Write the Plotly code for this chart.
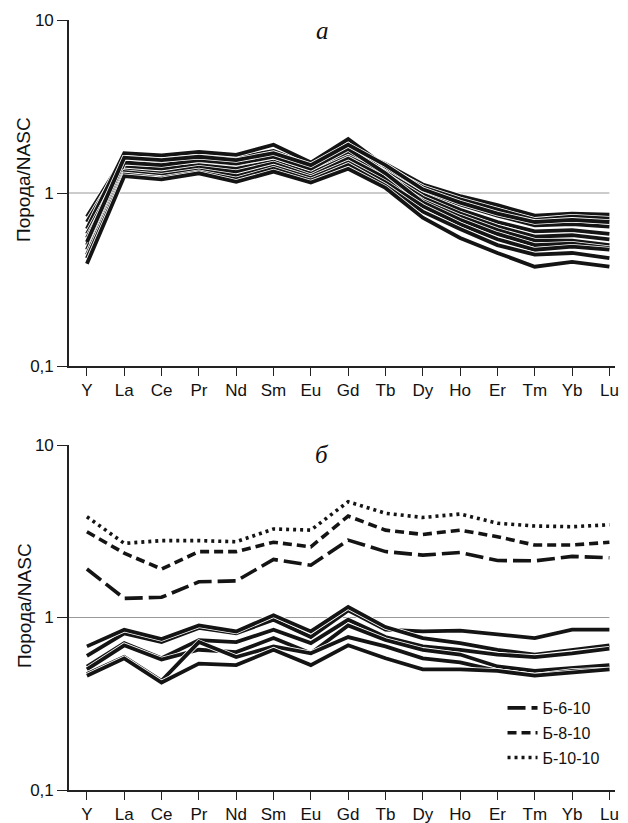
import plotly.graph_objects as go

elements = ["Y", "La", "Ce", "Pr", "Nd", "Sm", "Eu", "Gd", "Tb", "Dy", "Ho", "Er", "Tm", "Yb", "Lu"]

# Panel a: samples normalized to NASC
panel_a = [
    [0.73, 1.62, 1.58, 1.65, 1.60, 1.75, 1.45, 1.85, 1.47, 1.12, 0.96, 0.85, 0.74, 0.76, 0.75],
    [0.68, 1.55, 1.50, 1.58, 1.50, 1.65, 1.40, 1.75, 1.40, 1.08, 0.92, 0.80, 0.70, 0.73, 0.71],
    [0.62, 1.70, 1.65, 1.73, 1.66, 1.90, 1.50, 2.05, 1.42, 1.02, 0.86, 0.74, 0.65, 0.66, 0.64],
    [0.58, 1.45, 1.42, 1.50, 1.45, 1.58, 1.35, 1.70, 1.32, 0.98, 0.80, 0.68, 0.60, 0.61, 0.58],
    [0.55, 1.40, 1.38, 1.45, 1.38, 1.52, 1.30, 1.62, 1.28, 0.94, 0.76, 0.64, 0.56, 0.57, 0.54],
    [0.50, 1.35, 1.30, 1.40, 1.32, 1.48, 1.25, 1.58, 1.22, 0.90, 0.73, 0.61, 0.53, 0.53, 0.50],
    [0.47, 1.50, 1.45, 1.55, 1.48, 1.62, 1.38, 1.80, 1.30, 0.88, 0.70, 0.58, 0.50, 0.51, 0.48],
    [0.44, 1.32, 1.26, 1.35, 1.25, 1.42, 1.22, 1.50, 1.15, 0.84, 0.66, 0.54, 0.47, 0.49, 0.47],
    [0.42, 1.28, 1.22, 1.32, 1.20, 1.38, 1.18, 1.45, 1.10, 0.78, 0.62, 0.50, 0.44, 0.45, 0.42],
    [0.39, 1.25, 1.20, 1.30, 1.16, 1.33, 1.15, 1.38, 1.07, 0.72, 0.55, 0.45, 0.375, 0.40, 0.375],
    [0.52, 1.60, 1.55, 1.62, 1.55, 1.70, 1.45, 1.90, 1.45, 1.05, 0.88, 0.76, 0.68, 0.70, 0.68],
]

# Panel b: solid lines
panel_b = [
    [0.60, 0.81, 0.72, 0.87, 0.81, 0.97, 0.77, 1.10, 0.85, 0.83, 0.84, 0.80, 0.76, 0.85, 0.85],
    [0.68, 0.85, 0.75, 0.90, 0.83, 1.03, 0.83, 1.15, 0.88, 0.76, 0.71, 0.65, 0.61, 0.65, 0.69],
    [0.52, 0.71, 0.58, 0.74, 0.72, 0.85, 0.71, 0.97, 0.77, 0.68, 0.65, 0.61, 0.59, 0.62, 0.66],
    [0.50, 0.69, 0.57, 0.65, 0.63, 0.76, 0.62, 0.90, 0.74, 0.65, 0.61, 0.52, 0.49, 0.51, 0.53],
    [0.47, 0.59, 0.43, 0.72, 0.59, 0.68, 0.62, 0.77, 0.68, 0.58, 0.55, 0.49, 0.46, 0.49, 0.50],
    [0.46, 0.58, 0.42, 0.54, 0.53, 0.65, 0.53, 0.69, 0.58, 0.50, 0.50, 0.49, 0.46, 0.48, 0.50],
]

b6_10 = [1.91, 1.29, 1.31, 1.61, 1.63, 2.17, 2.01, 2.81, 2.41, 2.30, 2.38, 2.14, 2.13, 2.26, 2.22]
b8_10 = [3.14, 2.36, 1.91, 2.41, 2.41, 2.73, 2.57, 3.87, 3.21, 3.03, 3.21, 2.94, 2.63, 2.63, 2.73]
b10_10 = [3.84, 2.69, 2.79, 2.79, 2.75, 3.26, 3.21, 4.69, 4.02, 3.80, 3.98, 3.52, 3.39, 3.36, 3.45]

named = [("Б-6-10", b6_10, "18px,6px"), ("Б-8-10", b8_10, "9px,5px"), ("Б-10-10", b10_10, "3px,4px")]

xi = list(range(len(elements)))
fig = go.Figure()

def outlined(vals, xa, ya):
    fig.add_trace(go.Scatter(x=xi, y=vals, mode="lines", xaxis=xa, yaxis=ya,
                             line=dict(color="white", width=5.4), showlegend=False, hoverinfo="skip"))
    fig.add_trace(go.Scatter(x=xi, y=vals, mode="lines", xaxis=xa, yaxis=ya,
                             line=dict(color="#141414", width=3.8), showlegend=False))

for v in panel_a:
    outlined(v, "x", "y")
for v in panel_b:
    outlined(v, "x2", "y2")
for i, (nm, vals, dash) in enumerate(named):
    fig.add_trace(go.Scatter(x=xi, y=vals, mode="lines", xaxis="x2", yaxis="y2", name=nm,
                             legendgroup=nm, line=dict(color="#141414", width=3.6, dash=dash)))

font = "Liberation Sans, Arial, sans-serif"
xr = [-0.48, 14.15]
xcommon = dict(range=xr, tickvals=xi, ticktext=elements, ticks="outside", ticklen=8,
               tickwidth=1.3, tickcolor="#222", showline=True, linecolor="#222", linewidth=1.6,
               showgrid=False, zeroline=False, automargin=False,
               tickfont=dict(size=17, color="#111", family=font))
ycommon = dict(type="log", range=[-1, 1], tickvals=[0.1, 1, 10], ticktext=["0,1", "1", "10"],
               ticks="outside", ticklen=10, tickwidth=1.3, tickcolor="#222", showline=True,
               linecolor="#222", linewidth=1.6, showgrid=False, zeroline=False, automargin=False,
               tickfont=dict(size=17, color="#111", family=font))

W, H = 620, 818
L, R, T, B = 61, 13, 12, 36
pw = W - L - R
ph = H - T - B

def px_x(fx):
    return (fx - L) / pw

def px_y(fy):
    return (H - B - fy) / ph

title_font = dict(size=19, color="#111", family=font)
serif = dict(size=25, family="Liberation Serif, DejaVu Serif, serif", color="#111")

fig.update_layout(
    width=W, height=H,
    margin=dict(l=L, r=R, t=T, b=B),
    paper_bgcolor="white", plot_bgcolor="white",
    xaxis=dict(domain=[0, 1], anchor="y", **xcommon),
    yaxis=dict(domain=[px_y(358), 1], anchor="x", **ycommon),
    xaxis2=dict(domain=[0, 1], anchor="y2", **xcommon),
    yaxis2=dict(domain=[0, px_y(437)], anchor="x2", **ycommon),
    legend=dict(x=0.794, y=px_y(683), xanchor="left", yanchor="top", bgcolor="rgba(0,0,0,0)",
                font=dict(size=16, color="#111", family=font), tracegroupgap=1, itemwidth=30),
    showlegend=True,
    shapes=[
        dict(type="line", xref="x", yref="y", x0=-0.48, x1=14, y0=1, y1=1,
             line=dict(color="#999", width=1.2), layer="below"),
        dict(type="line", xref="x2", yref="y2", x0=-0.48, x1=14, y0=1, y1=1,
             line=dict(color="#999", width=1.2), layer="below"),
    ],
    annotations=[
        dict(text="<i>а</i>", xref="x", yref="paper", x=6.3, y=px_y(22), yanchor="middle",
             showarrow=False, font=serif),
        dict(text="<i>б</i>", xref="x2", yref="paper", x=6.3, y=px_y(446), yanchor="middle",
             showarrow=False, font=serif),
        dict(text="Порода/NASC", xref="paper", yref="paper", x=px_x(16), y=px_y(172),
             xanchor="center", yanchor="middle", textangle=-90, showarrow=False, font=title_font),
        dict(text="Порода/NASC", xref="paper", yref="paper", x=px_x(16), y=px_y(598),
             xanchor="center", yanchor="middle", textangle=-90, showarrow=False, font=title_font),
    ],
)

fig.write_html("out.html")
